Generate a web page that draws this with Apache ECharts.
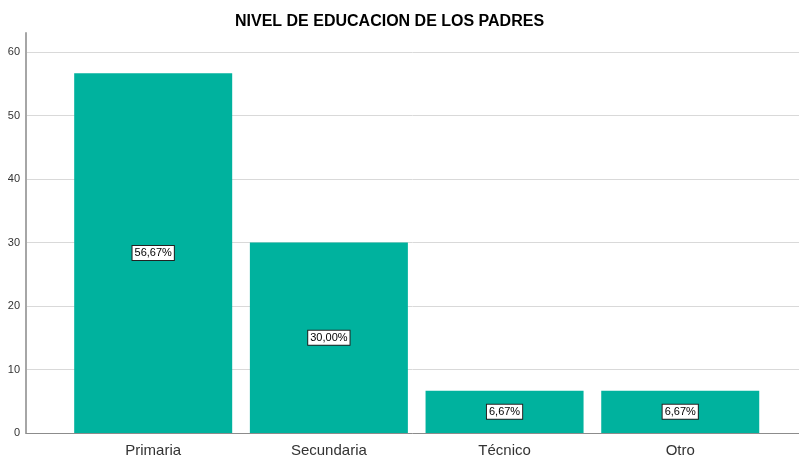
<!DOCTYPE html>
<html>
<head>
<meta charset="utf-8">
<script src="https://cdn.jsdelivr.net/npm/echarts@6/dist/echarts.min.js"></script>
<style>
  html, body { margin: 0; padding: 0; background: #fff; }
  #chart { width: 799px; height: 458px; }
</style>
</head>
<body>
<div id="chart"></div>
<script>
// datos del grafico
var titulo = 'NIVEL DE EDUCACION DE LOS PADRES';
var categorias = ['Primaria', 'Secundaria', 'Técnico', 'Otro'];
var porcentajes = [56.67, 30.00, 6.67, 6.67];
var ticksY = [0, 10, 20, 30, 40, 50, 60];

(function () {
    var myChart = echarts.init(document.getElementById('chart'));
    var posiciones = categorias.map(function (c, i) { return i; });
    var option = {
        animation: false,
        textStyle: { fontFamily: 'Liberation Sans, Arial, sans-serif' },
        title: {
            text: titulo,
            left: 230,
            top: 9,
            textStyle: { fontSize: 16, fontWeight: 'bold', color: '#000' }
        },
        grid: { left: 26, right: 0, top: 33, bottom: 23 },
        xAxis: {
            type: 'value',
            min: -0.724,
            max: 3.676,
            splitLine: { show: false },
            axisTick: { show: false },
            axisLine: { show: true, onZero: false, lineStyle: { color: '#8c8c8c', width: 1 } },
            axisLabel: {
                customValues: posiciones,
                color: '#333',
                fontSize: 15,
                margin: 10,
                formatter: function (v) { return categorias[Math.round(v)]; }
            }
        },
        yAxis: {
            type: 'value',
            min: 0,
            max: 63,
            interval: 10,
            axisLine: { show: true, onZero: false, lineStyle: { color: '#a6a6a6', width: 2 } },
            axisTick: { show: false },
            axisLabel: {
                customValues: ticksY,
                color: '#333',
                fontSize: 11,
                margin: 6
            },
            splitLine: { showMaxLine: false, lineStyle: { color: '#d9d9d9', width: 1 } }
        },
        series: [{
            type: 'bar',
            barWidth: 158,
            data: porcentajes.map(function (v, i) { return [i, v]; }),
            itemStyle: { color: '#00b29e' },
            label: {
                show: true,
                position: 'inside',
                color: '#000',
                fontSize: 11,
                backgroundColor: '#fff',
                borderColor: '#222',
                borderWidth: 1,
                padding: [2, 2, 1, 2],
                formatter: function (p) {
                    return p.value[1].toFixed(2).replace('.', ',') + '%';
                }
            }
        }]
    };
    myChart.setOption(option);
    window.addEventListener('resize', function () {
        myChart.resize();
    });
})();
</script>
</body>
</html>
